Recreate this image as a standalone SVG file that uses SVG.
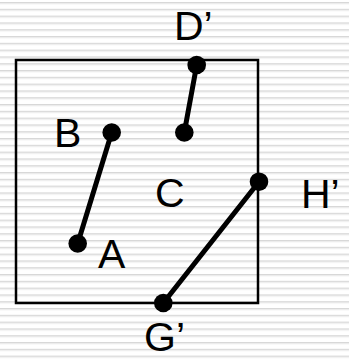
<svg xmlns="http://www.w3.org/2000/svg" width="349" height="360" viewBox="0 0 349 360">
  <defs>
    <pattern id="stripes" patternUnits="userSpaceOnUse" x="0" y="2" width="349" height="6.8">
      <rect width="349" height="6.8" fill="#ffffff"/>
      <rect y="0" width="349" height="1" fill="#d8d8d8"/>
      <rect y="1" width="349" height="1.2" fill="#ebebeb"/>
    </pattern>
  </defs>
  <style>
    .frame { fill: none; stroke: #000; stroke-width: 2.5; }
    .seg { stroke: #000; stroke-width: 5; stroke-linecap: round; }
    .dot { fill: #000; }
    .lbl { font-family: "Liberation Sans", Arial, sans-serif; font-size: 41px; fill: #000; }
  </style>

  <!-- striped backdrop -->
  <rect width="349" height="360" fill="url(#stripes)"/>

  <!-- clipping window -->
  <g id="window">
    <rect class="frame" x="16" y="60" width="242" height="243"/>
  </g>

  <!-- segments -->
  <g id="connectors">
    <line class="seg" x1="111.7" y1="132.5" x2="77.7" y2="243.5"/>
    <line class="seg" x1="196.7" y1="65" x2="184.3" y2="132.5"/>
    <line class="seg" x1="259" y1="181.7" x2="163.3" y2="303"/>
  </g>

  <!-- endpoints -->
  <g id="node-B"><circle class="dot" cx="111.7" cy="132.5" r="9.3"/><text class="lbl" x="54" y="147">B</text></g>
  <g id="node-A"><circle class="dot" cx="77.7" cy="243.5" r="9.3"/><text class="lbl" x="98" y="268">A</text></g>
  <g id="node-D"><circle class="dot" cx="196.7" cy="65" r="9.3"/><text class="lbl" x="174" y="40">D’</text></g>
  <g id="node-C"><circle class="dot" cx="184.3" cy="132.5" r="9.3"/><text class="lbl" x="155" y="207">C</text></g>
  <g id="node-H"><circle class="dot" cx="259" cy="181.7" r="9.3"/><text class="lbl" x="301" y="208">H’</text></g>
  <g id="node-G"><circle class="dot" cx="163.3" cy="303" r="9.3"/><text class="lbl" x="144" y="351">G’</text></g>
</svg>
